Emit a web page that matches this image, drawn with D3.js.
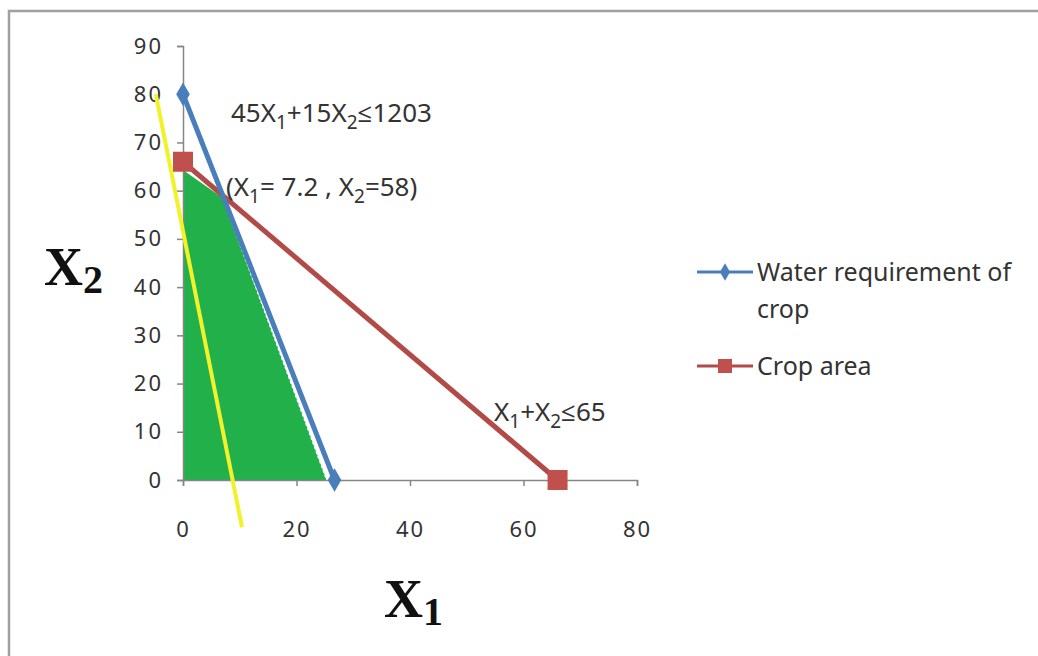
<!DOCTYPE html>
<html>
<head>
<meta charset="utf-8">
<script src="https://cdn.jsdelivr.net/npm/d3@7"></script>
<style>
  body { margin: 0; background: #fff; }
  text { font-family: "Noto Sans", "Open Sans", sans-serif; fill: #333; }
</style>
</head>
<body>
<div id="graph"></div>
<script>
// values
var xTicks = [0, 20, 40, 60, 80]
var yTicks = [0, 10, 20, 30, 40, 50, 60, 70, 80, 90]

var water = [{x: 0, y: 80}, {x: 26.7, y: 0}]        // 45X1+15X2<=1203
var cropArea = [{x: 0, y: 66}, {x: 66, y: 0}]       // X1+X2<=65
var yellowLine = [{x: -4.8, y: 80}, {x: 10.4, y: -9.8}]
var feasible = [{x: 0, y: 0}, {x: 0, y: 64.3}, {x: 7, y: 58.5}, {x: 25.3, y: 0}]

var seriesNames = ['Water requirement of', 'crop', 'Crop area']

var W = 1038, H = 656

var svg = d3.select('#graph').append('svg')
  .attr('width', W).attr('height', H)

// outer frame
svg.append('rect')
  .attr('x', 9).attr('y', 11).attr('width', W + 10).attr('height', H + 10)
  .attr('fill', 'none').attr('stroke', '#a0a0a0').attr('stroke-width', 2.5)

var x = d3.scaleLinear().domain([0, 80]).range([183, 637])
var y = d3.scaleLinear().domain([0, 90]).range([480, 46])

var line = d3.line().x(d => x(d.x)).y(d => y(d.y))

// feasible region
svg.append('path')
  .attr('d', line(feasible) + 'Z')
  .attr('fill', '#22b04a')

// axes
var yAxis = svg.append('g')
  .attr('transform', 'translate(' + x(0) + ',0)')
  .call(d3.axisLeft(y).tickValues(yTicks).tickSize(6).tickPadding(14))
var xAxis = svg.append('g')
  .attr('transform', 'translate(0,' + y(0) + ')')
  .call(d3.axisBottom(x).tickValues(xTicks).tickSize(6).tickPadding(43))

;[xAxis, yAxis].forEach(a => {
  a.attr('font-size', null).attr('font-family', null)
  a.select('.domain').attr('stroke', '#868686').attr('stroke-width', 1.5)
  a.selectAll('.tick line').attr('stroke', '#868686').attr('stroke-width', 1.5)
  a.selectAll('.tick text')
    .style('font-size', '22px').style('letter-spacing', '2px').style('fill', '#333')
})
xAxis.selectAll('.tick text').attr('dy', '0.36em')

// white dashed edge along the water constraint
svg.append('path')
  .attr('d', line(feasible.slice(2)))
  .attr('fill', 'none').attr('stroke', '#fff')
  .attr('stroke-width', 1.2).attr('stroke-dasharray', '3,2')

// crop area line
svg.append('path').attr('d', line(cropArea))
  .attr('fill', 'none').attr('stroke', '#b24a47').attr('stroke-width', 5)

// water requirement line
svg.append('path').attr('d', line(water))
  .attr('fill', 'none').attr('stroke', '#4a7ebb').attr('stroke-width', 5)

// yellow line
svg.append('path').attr('d', line(yellowLine))
  .attr('fill', 'none').attr('stroke', '#f2f22a').attr('stroke-width', 4)

// markers
var diamond = d3.symbol().type(d3.symbolDiamond).size(160)
svg.selectAll('path.wm').data(water).join('path')
  .attr('class', 'wm')
  .attr('transform', d => 'translate(' + x(d.x) + ',' + y(d.y) + ')')
  .attr('d', diamond).attr('fill', '#4a7ebb')

svg.selectAll('rect.cm').data(cropArea).join('rect')
  .attr('class', 'cm')
  .attr('x', d => x(d.x) - 10).attr('y', d => y(d.y) - 10)
  .attr('width', 20).attr('height', 20)
  .attr('fill', '#c0504d')

// annotations with subscripts
function subText(sel, parts) {
  parts.forEach(p => {
    var t = sel.append('tspan').text(p[0])
    if (p[1]) t.attr('dy', 7).attr('font-size', 19)
    else if (p[2]) t.attr('dy', -7)
  })
}

var a1 = svg.append('text').attr('x', 231).attr('y', 122).attr('font-size', 26)
subText(a1, [['45X'], ['1', 1], ['+15X', 0, 1], ['2', 1], ['\u22641203', 0, 1]])

var a2 = svg.append('text').attr('x', 226).attr('y', 196).attr('font-size', 26)
subText(a2, [['(X'], ['1', 1], ['= 7.2 , X', 0, 1], ['2', 1], ['=58)', 0, 1]])

var a3 = svg.append('text').attr('x', 494).attr('y', 421).attr('font-size', 26)
subText(a3, [['X'], ['1', 1], ['+X', 0, 1], ['2', 1], ['\u226465', 0, 1]])

// axis titles
var serif = '"Liberation Serif", "DejaVu Serif", serif'
var t2 = svg.append('text').attr('x', 44).attr('y', 285)
  .style('font-family', serif).attr('font-weight', 'bold').style('fill', '#111')
t2.append('tspan').attr('font-size', 54).text('X')
t2.append('tspan').attr('font-size', 40).attr('dy', 8).text('2')

var t1 = svg.append('text').attr('x', 384).attr('y', 617)
  .style('font-family', serif).attr('font-weight', 'bold').style('fill', '#111')
t1.append('tspan').attr('font-size', 54).text('X')
t1.append('tspan').attr('font-size', 40).attr('dy', 8).text('1')

// legend
var lg = svg.append('g')
lg.append('line').attr('x1', 697).attr('x2', 753).attr('y1', 272).attr('y2', 272)
  .attr('stroke', '#4a7ebb').attr('stroke-width', 3)
lg.append('path').attr('transform', 'translate(725,272)')
  .attr('d', d3.symbol().type(d3.symbolDiamond).size(90)).attr('fill', '#4a7ebb')
lg.append('text').attr('x', 757).attr('y', 281).attr('font-size', 25).text(seriesNames[0])
lg.append('text').attr('x', 757).attr('y', 318).attr('font-size', 25).text(seriesNames[1])

lg.append('line').attr('x1', 697).attr('x2', 753).attr('y1', 366).attr('y2', 366)
  .attr('stroke', '#b24a47').attr('stroke-width', 3)
lg.append('rect').attr('x', 718).attr('y', 359).attr('width', 14).attr('height', 14)
  .attr('fill', '#c0504d')
lg.append('text').attr('x', 757).attr('y', 375).attr('font-size', 25).text(seriesNames[2])
</script>
</body>
</html>
